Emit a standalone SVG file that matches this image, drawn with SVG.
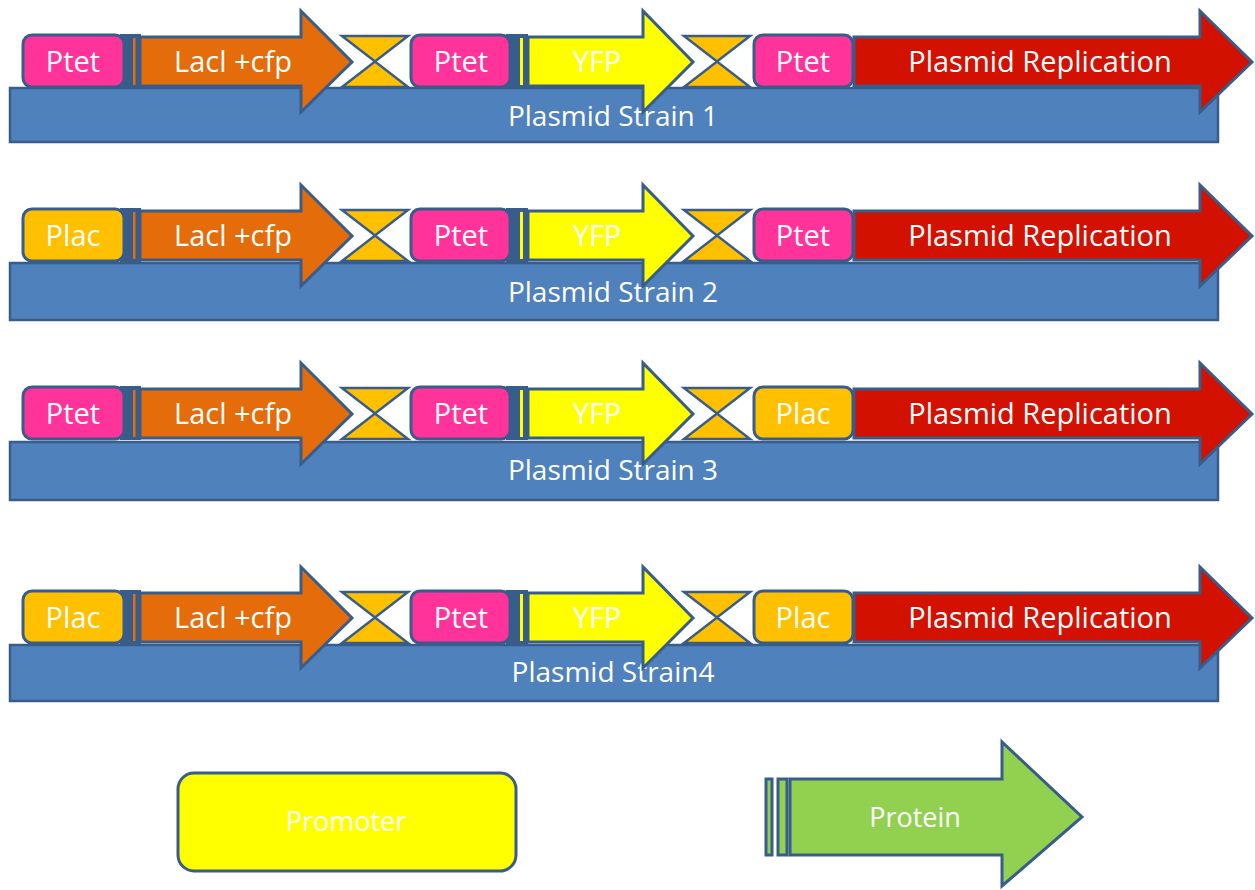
<svg xmlns="http://www.w3.org/2000/svg" width="1255" height="890" viewBox="0 0 1255 890">
<style>
.ln{stroke:#385D8A;stroke-width:3;stroke-linejoin:miter}
.bb{fill:#4F81BD;stroke:#385D8A;stroke-width:2.5}
.ptet{fill:#FF3399}
.plac{fill:#FFC000}
.hg{fill:#FFC000;stroke:#385D8A;stroke-width:2.5;stroke-linejoin:miter}
.dk{fill:#385D8A}
.or{fill:#E46C0A}
.ye{fill:#FFFF00}
.rd{fill:#D21100}
.gr{fill:#92D050}
text{font-family:"Open Sans","Noto Sans",sans-serif;fill:#FFFFFF;text-anchor:middle}
.t{font-size:29px}
.tb{font-size:28px}
.tl{font-size:27px}
</style>
<defs>
<g id="hgShape">
<path class="hg" d="M0,0 L66,0 L33,25.5 Z"/>
<path class="hg" d="M0,51 L66,51 L33,25.5 Z"/>
</g>
</defs>
<g id="connectors"/>

<!-- Row 1 -->
<g id="strain1">
<g id="s1-backbone"><rect class="bb" x="10" y="88" width="1208" height="54"/><text class="tb" x="613" y="126">Plasmid Strain 1</text></g>
<g id="s1-prom1"><rect class="dk" x="120" y="34" width="21" height="54"/><rect class="ptet ln" x="23" y="35" width="101" height="52" rx="9"/><text class="t" x="73" y="72">Ptet</text></g>
<g id="s1-laci"><rect class="or" x="133" y="38" width="2.5" height="47"/><path class="or ln" d="M140,37 L301,37 L301,11 L352,62 L301,112 L301,86 L140,86 Z"/><text class="t" x="233" y="72">Lacl +cfp</text></g>
<g id="s1-term1"><use href="#hgShape" x="342" y="36"/></g>
<g id="s1-prom2"><rect class="dk" x="506" y="34" width="22" height="54"/><rect class="ptet ln" x="411" y="35" width="99" height="52" rx="9"/><text class="t" x="461" y="72">Ptet</text></g>
<g id="s1-yfp"><rect class="ye" x="520" y="38" width="3" height="47"/><path class="ye ln" d="M528,37 L643,37 L643,11 L693,62 L643,112 L643,86 L528,86 Z"/><text class="t" x="597" y="72">YFP</text></g>
<g id="s1-term2"><use href="#hgShape" x="684" y="36"/></g>
<g id="s1-prom3"><rect class="ptet ln" x="754" y="35" width="99" height="52" rx="9"/><text class="t" x="803" y="72">Ptet</text></g>
<g id="s1-rep"><path class="rd ln" d="M854,37 L1200,37 L1200,11 L1252,62 L1200,112 L1200,86 L854,86 Z"/><text class="t" x="1040" y="72">Plasmid Replication</text></g>
</g>

<!-- Row 2 -->
<g id="strain2">
<g id="s2-backbone"><rect class="bb" x="10" y="263" width="1208" height="57"/><text class="tb" x="613" y="302">Plasmid Strain 2</text></g>
<g transform="translate(0,174)">
<g id="s2-prom1"><rect class="dk" x="120" y="34" width="21" height="54"/><rect class="plac ln" x="23" y="35" width="101" height="52" rx="9"/><text class="t" x="73" y="72">Plac</text></g>
<g id="s2-laci"><rect class="or" x="133" y="38" width="2.5" height="47"/><path class="or ln" d="M140,37 L301,37 L301,11 L352,62 L301,112 L301,86 L140,86 Z"/><text class="t" x="233" y="72">Lacl +cfp</text></g>
<g id="s2-term1"><use href="#hgShape" x="342" y="36"/></g>
<g id="s2-prom2"><rect class="dk" x="506" y="34" width="22" height="54"/><rect class="ptet ln" x="411" y="35" width="99" height="52" rx="9"/><text class="t" x="461" y="72">Ptet</text></g>
<g id="s2-yfp"><rect class="ye" x="520" y="38" width="3" height="47"/><path class="ye ln" d="M528,37 L643,37 L643,11 L693,62 L643,112 L643,86 L528,86 Z"/><text class="t" x="597" y="72">YFP</text></g>
<g id="s2-term2"><use href="#hgShape" x="684" y="36"/></g>
<g id="s2-prom3"><rect class="ptet ln" x="754" y="35" width="99" height="52" rx="9"/><text class="t" x="803" y="72">Ptet</text></g>
<g id="s2-rep"><path class="rd ln" d="M854,37 L1200,37 L1200,11 L1252,62 L1200,112 L1200,86 L854,86 Z"/><text class="t" x="1040" y="72">Plasmid Replication</text></g>
</g>
</g>

<!-- Row 3 -->
<g id="strain3">
<g id="s3-backbone"><rect class="bb" x="10" y="442" width="1208" height="58"/><text class="tb" x="613" y="480">Plasmid Strain 3</text></g>
<g transform="translate(0,352)">
<g id="s3-prom1"><rect class="dk" x="120" y="34" width="21" height="54"/><rect class="ptet ln" x="23" y="35" width="101" height="52" rx="9"/><text class="t" x="73" y="72">Ptet</text></g>
<g id="s3-laci"><rect class="or" x="133" y="38" width="2.5" height="47"/><path class="or ln" d="M140,37 L301,37 L301,11 L352,62 L301,112 L301,86 L140,86 Z"/><text class="t" x="233" y="72">Lacl +cfp</text></g>
<g id="s3-term1"><use href="#hgShape" x="342" y="36"/></g>
<g id="s3-prom2"><rect class="dk" x="506" y="34" width="22" height="54"/><rect class="ptet ln" x="411" y="35" width="99" height="52" rx="9"/><text class="t" x="461" y="72">Ptet</text></g>
<g id="s3-yfp"><rect class="ye" x="520" y="38" width="3" height="47"/><path class="ye ln" d="M528,37 L643,37 L643,11 L693,62 L643,112 L643,86 L528,86 Z"/><text class="t" x="597" y="72">YFP</text></g>
<g id="s3-term2"><use href="#hgShape" x="684" y="36"/></g>
<g id="s3-prom3"><rect class="plac ln" x="754" y="35" width="99" height="52" rx="9"/><text class="t" x="803" y="72">Plac</text></g>
<g id="s3-rep"><path class="rd ln" d="M854,37 L1200,37 L1200,11 L1252,62 L1200,112 L1200,86 L854,86 Z"/><text class="t" x="1040" y="72">Plasmid Replication</text></g>
</g>
</g>

<!-- Row 4 -->
<g id="strain4">
<g id="s4-backbone"><rect class="bb" x="10" y="645" width="1208" height="56"/><text class="tb" x="613" y="682">Plasmid Strain4</text></g>
<g transform="translate(0,556)">
<g id="s4-prom1"><rect class="dk" x="120" y="34" width="21" height="54"/><rect class="plac ln" x="23" y="35" width="101" height="52" rx="9"/><text class="t" x="73" y="72">Plac</text></g>
<g id="s4-laci"><rect class="or" x="133" y="38" width="2.5" height="47"/><path class="or ln" d="M140,37 L301,37 L301,11 L352,62 L301,112 L301,86 L140,86 Z"/><text class="t" x="233" y="72">Lacl +cfp</text></g>
<g id="s4-term1"><use href="#hgShape" x="342" y="36"/></g>
<g id="s4-prom2"><rect class="dk" x="506" y="34" width="22" height="54"/><rect class="ptet ln" x="411" y="35" width="99" height="52" rx="9"/><text class="t" x="461" y="72">Ptet</text></g>
<g id="s4-yfp"><rect class="ye" x="520" y="38" width="3" height="47"/><path class="ye ln" d="M528,37 L643,37 L643,11 L693,62 L643,112 L643,86 L528,86 Z"/><text class="t" x="597" y="72">YFP</text></g>
<g id="s4-term2"><use href="#hgShape" x="684" y="36"/></g>
<g id="s4-prom3"><rect class="plac ln" x="754" y="35" width="99" height="52" rx="9"/><text class="t" x="803" y="72">Plac</text></g>
<g id="s4-rep"><path class="rd ln" d="M854,37 L1200,37 L1200,11 L1252,62 L1200,112 L1200,86 L854,86 Z"/><text class="t" x="1040" y="72">Plasmid Replication</text></g>
</g>
</g>

<!-- Legend -->
<g id="legend-promoter"><rect class="ln" fill="#FFFF00" x="178" y="773" width="338" height="98" rx="16"/><text class="tl" x="346" y="831">Promoter</text></g>
<g id="legend-protein">
<rect class="gr ln" x="766" y="779" width="6" height="76" stroke-width="2.5"/>
<rect class="gr ln" x="778" y="779" width="9" height="76" stroke-width="2.5"/>
<path class="gr ln" d="M790,779 L1002,779 L1002,742 L1082,817 L1002,886 L1002,855 L790,855 Z"/>
<text class="tl" x="915" y="827">Protein</text>
</g>
</svg>
